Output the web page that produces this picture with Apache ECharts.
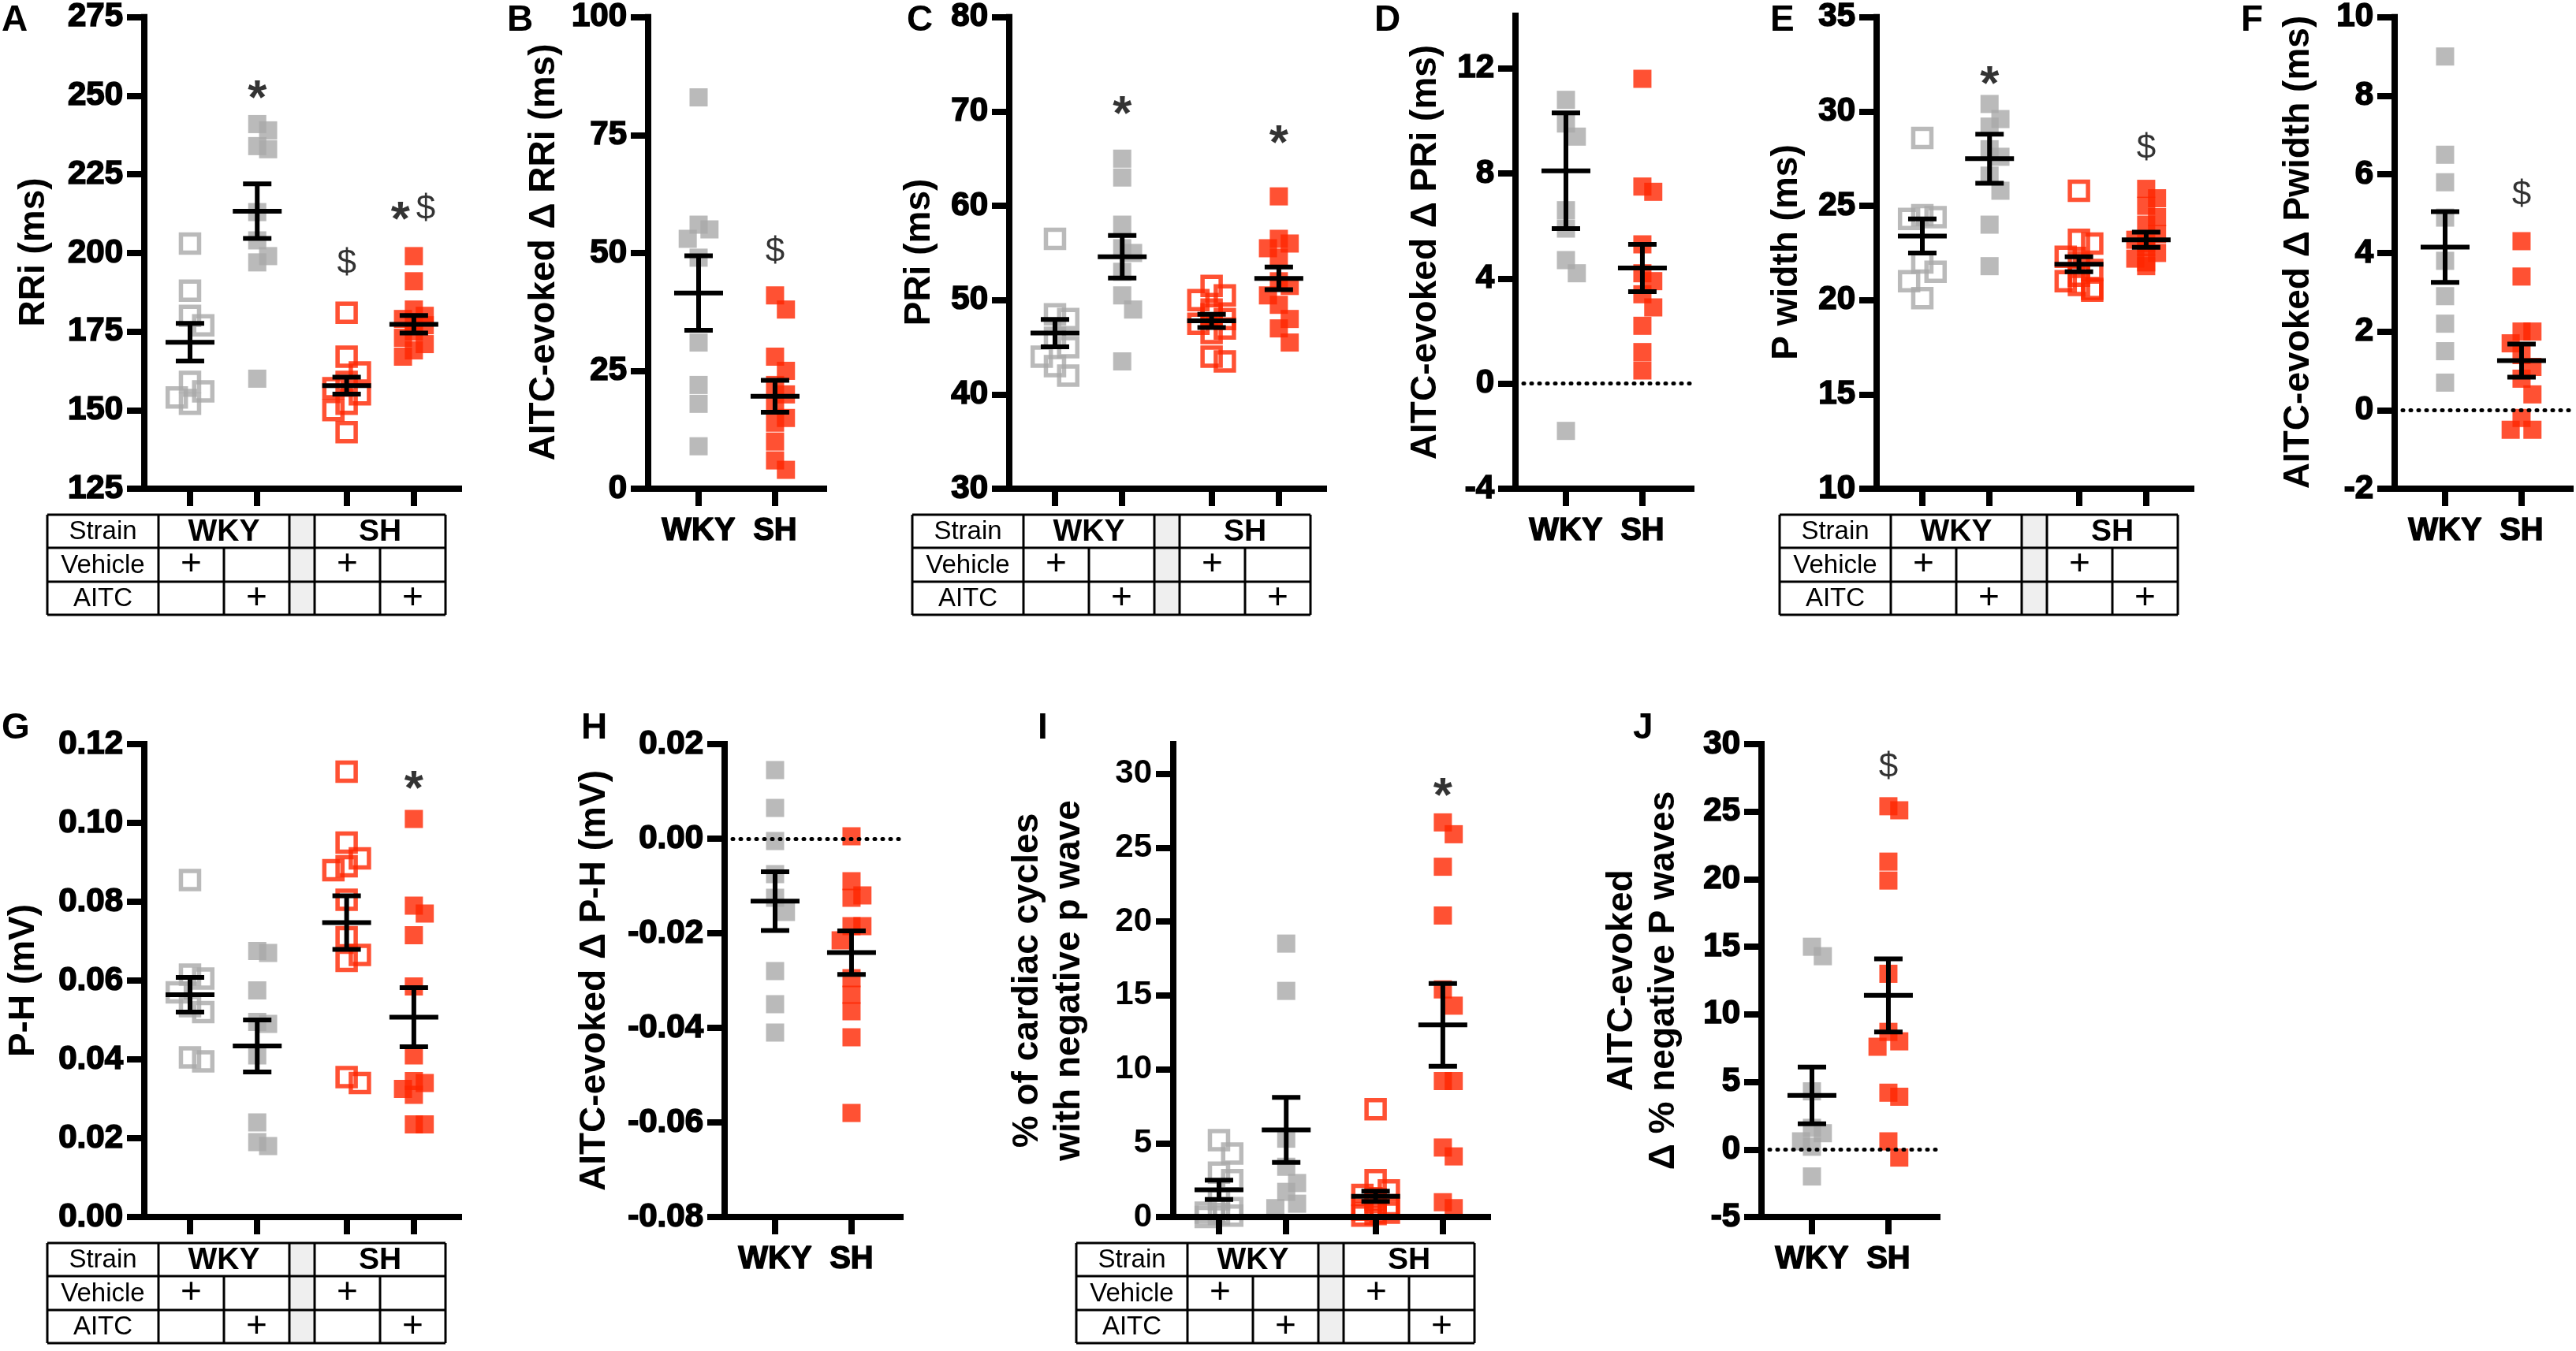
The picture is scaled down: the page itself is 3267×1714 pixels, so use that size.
<!DOCTYPE html>
<html lang="en">
<head>
<meta charset="UTF-8">
<title>AITC-evoked ECG changes in WKY and SH rats</title>
<script src="https://cdn.jsdelivr.net/npm/echarts/dist/echarts.min.js"></script>
<style>
    html, body { margin: 0; padding: 0; background: #fff; }
    #main { width: 3267px; height: 1714px; }
</style>
</head>
<body>
<div id="main"></div>
<script>
// ---- values ----
var strainNames = ['WKY', 'SH'];
var tableRows = ['Strain', 'Vehicle', 'AITC'];

// A  RRi (ms)
var rriTicks = [125, 150, 175, 200, 225, 250, 275];
var rriWkyVeh = [203, 188, 180, 177, 159, 156, 154, 152];
var rriWkyAitc = [241, 239, 234, 233, 213, 204, 199, 197, 160];
var rriShVeh = [181, 167, 162, 159, 157, 155, 152, 150, 143];
var rriShAitc = [199, 191, 182, 180, 179, 178, 177, 175, 173, 171, 169, 167];
var rriMean = [171.6, 213.3, 157.8, 177.3];
var rriSem = [6.0, 8.7, 2.7, 2.8];
var rriMarkText = ['', '*', '$', '*$'];
var rriMarkY = [null, 252.5, 196.5, 213.7];

// B  AITC-evoked delta RRi (ms)
var dRriTicks = [0, 25, 50, 75, 100];
var dRriWky = [83, 56, 55, 53, 49, 31, 22, 18, 9];
var dRriSh = [41, 38, 28, 25, 22, 20, 18, 15, 14, 10, 6, 4];
var dRriMean = [41.5, 19.6];
var dRriSem = [7.9, 3.4];
var dRriMarkText = ['', '$'];
var dRriMarkY = [null, 50.2];

// C  PRi (ms)
var priTicks = [30, 40, 50, 60, 70, 80];
var priWkyVeh = [56.5, 48.5, 48, 46, 45, 44, 43, 42];
var priWkyAitc = [65, 63, 58, 55.5, 55, 53, 50.5, 49, 43.5];
var priShVeh = [51.5, 50.5, 50, 49, 48.5, 48, 47.5, 47, 46.5, 44, 43.5];
var priShAitc = [61, 56.5, 56, 55.5, 54.5, 52, 51.5, 50.5, 49.5, 48, 47, 45.5];
var priMean = [46.5, 54.6, 47.8, 52.3];
var priSem = [1.45, 2.25, 0.7, 1.2];
var priMarkText = ['', '*', '', '*'];
var priMarkY = [null, 70.8, null, 67.7];

// D  AITC-evoked delta PRi (ms)
var dPriTicks = [-4, 0, 4, 8, 12];
var dPriWky = [10.8, 9.9, 9.4, 6.6, 5.9, 4.7, 4.2, -1.8];
var dPriSh = [11.6, 7.5, 7.3, 5.3, 4.2, 3.9, 3.4, 2.9, 2.2, 1.2, 0.5];
var dPriMean = [8.1, 4.4];
var dPriSem = [2.2, 0.9];
var dPriMarkText = ['', ''];
var dPriMarkY = [null, null];

// E  P width (ms)
var pwTicks = [10, 15, 20, 25, 30, 35];
var pwWkyVeh = [28.6, 24.5, 24.4, 24.3, 22, 21.5, 21, 20.1];
var pwWkyAitc = [30.4, 29.6, 29.2, 28, 27.6, 26.6, 25.8, 24, 21.8];
var pwShVeh = [25.8, 23.2, 23, 22.3, 22, 21.6, 21.3, 21, 20.8, 20.6, 20.5];
var pwShAitc = [25.9, 25.4, 25, 24.4, 24, 23.5, 23.2, 23, 22.8, 22.5, 22.2, 22, 21.8];
var pwMean = [23.4, 27.5, 21.9, 23.2];
var pwSem = [0.9, 1.3, 0.4, 0.4];
var pwMarkText = ['', '*', '', '$'];
var pwMarkY = [null, 32.0, null, 28.0];

// F  AITC-evoked delta Pwidth (ms)
var dPwTicks = [-2, 0, 2, 4, 6, 8, 10];
var dPwWky = [9.0, 6.5, 5.8, 4.9, 3.8, 2.9, 2.2, 1.5, 0.7];
var dPwSh = [4.3, 3.4, 2.0, 2.0, 1.7, 1.4, 1.1, 0.8, 0.4, -0.2, -0.5, -0.5];
var dPwMean = [4.15, 1.26];
var dPwSem = [0.9, 0.42];
var dPwMarkText = ['', '$'];
var dPwMarkY = [null, 5.46];

// G  P-H (mV)
var phTicks = [0, 0.02, 0.04, 0.06, 0.08, 0.10, 0.12];
var phWkyVeh = [0.0855, 0.0615, 0.0605, 0.057, 0.0535, 0.052, 0.0405, 0.0395];
var phWkyAitc = [0.0675, 0.067, 0.0575, 0.0495, 0.049, 0.041, 0.024, 0.019, 0.018];
var phShVeh = [0.113, 0.095, 0.091, 0.089, 0.088, 0.0805, 0.071, 0.0665, 0.065, 0.0355, 0.034];
var phShAitc = [0.101, 0.079, 0.077, 0.0715, 0.0585, 0.041, 0.0345, 0.034, 0.0325, 0.031, 0.0235, 0.0235];
var phMean = [0.0564, 0.0434, 0.0747, 0.0507];
var phSem = [0.0044, 0.0066, 0.0068, 0.0075];
var phMarkText = ['', '', '', '*'];
var phMarkY = [null, null, null, 0.1112];

// H  AITC-evoked delta P-H (mV)
var dPhTicks = [-0.08, -0.06, -0.04, -0.02, 0, 0.02];
var dPhWky = [0.0145, 0.0065, -0.0005, -0.0075, -0.0125, -0.0155, -0.028, -0.035, -0.041];
var dPhSh = [0.0005, -0.009, -0.012, -0.0125, -0.0185, -0.0185, -0.0215, -0.0295, -0.033, -0.0365, -0.042, -0.058];
var dPhMean = [-0.0132, -0.0241];
var dPhSem = [0.0062, 0.0046];
var dPhMarkText = ['', ''];
var dPhMarkY = [null, null];

// I  % of cardiac cycles with negative p wave
var negTicks = [0, 5, 10, 15, 20, 25, 30];
var negWkyVeh = [5.2, 4.3, 3.0, 2.5, 1.2, 0.6, 0.3, 0.2, 0.1, 0.0];
var negWkyAitc = [18.5, 15.3, 5.3, 3.4, 2.3, 1.7, 0.9, 0.6];
var negShVeh = [7.3, 2.5, 1.8, 1.5, 1.2, 1.0, 0.8, 0.5, 0.3, 0.2, 0.1];
var negShAitc = [26.7, 25.9, 23.7, 20.4, 15.4, 14.3, 9.2, 9.2, 4.7, 4.1, 1.0, 0.6];
var negMean = [1.84, 5.9, 1.4, 13.0];
var negSem = [0.65, 2.2, 0.35, 2.8];
var negMarkText = ['', '', '', '*'];
var negMarkY = [null, null, null, 29.2];

// J  AITC-evoked delta % negative P waves
var dNegTicks = [-5, 0, 5, 10, 15, 20, 25, 30];
var dNegWky = [15, 14.3, 4.3, 1.6, 1.2, 0.6, 0.2, -2.0];
var dNegSh = [25.4, 25.1, 21.3, 19.9, 13.0, 8.7, 8.0, 7.6, 4.2, 3.9, 0.6, -0.6];
var dNegMean = [4.0, 11.4];
var dNegSem = [2.1, 2.7];
var dNegMarkText = ['', '$'];
var dNegMarkY = [null, 28.25];

// ---- layout / style ----
var FONT = '"Liberation Sans", Arial, sans-serif';
var GREY = '#a9a9a9', RED = '#ff2600';
var ROW_TOP = [20, 944], PLOT_H = 600;
var POS4 = [1, 2, 3.33, 4.33], POS2 = [1, 2];
var STYLE4 = [{c: GREY, open: true}, {c: GREY, open: false}, {c: RED, open: true}, {c: RED, open: false}];
var STYLE2 = [{c: GREY, open: false}, {c: RED, open: false}];

var panels = [
    {letter: 'A', row: 0, left: 183, lx: 2, tx: 43, title: 'RRi (ms)', min: 125, max: 275, ticks: rriTicks,
        groups: [rriWkyVeh, rriWkyAitc, rriShVeh, rriShAitc], mean: rriMean, sem: rriSem, mt: rriMarkText, my: rriMarkY},
    {letter: 'B', row: 0, left: 822, lx: 643, tx: 690, title: 'AITC-evoked \u0394 RRi (ms)', min: 0, max: 100, ticks: dRriTicks,
        groups: [dRriWky, dRriSh], mean: dRriMean, sem: dRriSem, mt: dRriMarkText, my: dRriMarkY},
    {letter: 'C', row: 0, left: 1280, lx: 1150, tx: 1166, title: 'PRi (ms)', min: 30, max: 80, ticks: priTicks,
        groups: [priWkyVeh, priWkyAitc, priShVeh, priShAitc], mean: priMean, sem: priSem, mt: priMarkText, my: priMarkY},
    {letter: 'D', row: 0, left: 1922, lx: 1743, tx: 1808, title: 'AITC-evoked \u0394 PRi (ms)', min: -4, max: 14, ticks: dPriTicks, zero: true,
        groups: [dPriWky, dPriSh], mean: dPriMean, sem: dPriSem, mt: dPriMarkText, my: dPriMarkY},
    {letter: 'E', row: 0, left: 2380, lx: 2245, tx: 2266, title: 'P width (ms)', min: 10, max: 35, ticks: pwTicks,
        groups: [pwWkyVeh, pwWkyAitc, pwShVeh, pwShAitc], mean: pwMean, sem: pwSem, mt: pwMarkText, my: pwMarkY},
    {letter: 'F', row: 0, left: 3037, lx: 2842, tx: 2915, title: 'AITC-evoked \u0394 Pwidth (ms)', min: -2, max: 10, ticks: dPwTicks, zero: true,
        groups: [dPwWky, dPwSh], mean: dPwMean, sem: dPwSem, mt: dPwMarkText, my: dPwMarkY},
    {letter: 'G', row: 1, left: 183, lx: 2, tx: 30, title: 'P-H (mV)', min: 0, max: 0.12, ticks: phTicks, dec: 2,
        groups: [phWkyVeh, phWkyAitc, phShVeh, phShAitc], mean: phMean, sem: phSem, mt: phMarkText, my: phMarkY},
    {letter: 'H', row: 1, left: 919, lx: 737, tx: 754, title: 'AITC-evoked \u0394 P-H (mV)', min: -0.08, max: 0.02, ticks: dPhTicks, dec: 2, zero: true,
        groups: [dPhWky, dPhSh], mean: dPhMean, sem: dPhSem, mt: dPhMarkText, my: dPhMarkY},
    {letter: 'I', row: 1, left: 1488, lx: 1316, tx: 1330, title: '% of cardiac cycles\nwith negative p wave', min: 0, max: 32, ticks: negTicks, light: true,
        groups: [negWkyVeh, negWkyAitc, negShVeh, negShAitc], mean: negMean, sem: negSem, mt: negMarkText, my: negMarkY},
    {letter: 'J', row: 1, left: 2234, lx: 2071, tx: 2084, title: 'AITC-evoked\n\u0394 % negative P waves', min: -5, max: 30, ticks: dNegTicks, zero: true,
        groups: [dNegWky, dNegSh], mean: dNegMean, sem: dNegSem, mt: dNegMarkText, my: dNegMarkY}
];

function textEl(x, y, text, size, weight, align, rot) {
    return {
        type: 'text', x: x, y: y, rotation: rot || 0, silent: true,
        style: {
            text: text, fill: '#000', fontSize: size, fontWeight: weight, fontFamily: FONT,
            align: align || 'center', verticalAlign: 'middle',
            textAlign: align || 'center', textVerticalAlign: 'middle', lineHeight: Math.round(size * 1.15)
        }
    };
}
function lineEl(x1, y1, x2, y2) {
    return {type: 'line', silent: true, shape: {x1: x1, y1: y1, x2: x2, y2: y2}, style: {stroke: '#000', lineWidth: 3}};
}
function tableEls(L, top) {
    var y0 = top + 633, y1 = y0 + 42, y2 = y1 + 43, y3 = y2 + 42;
    var xl = L - 123, c1 = L + 18, c2 = L + 101, c3 = L + 184, c4 = L + 216, c5 = L + 299, xr = L + 382;
    var els = [{type: 'rect', silent: true, shape: {x: c3, y: y0, width: c4 - c3, height: y3 - y0}, style: {fill: '#efefef'}}];
    [y0, y1, y2, y3].forEach(function (y) { els.push(lineEl(xl, y, xr, y)); });
    [xl, c1, c3, c4, xr].forEach(function (x) { els.push(lineEl(x, y0, x, y3)); });
    [c2, c5].forEach(function (x) { els.push(lineEl(x, y1, x, y3)); });
    var my = [(y0 + y1) / 2, (y1 + y2) / 2, (y2 + y3) / 2];
    tableRows.forEach(function (t, r) { els.push(textEl((xl + c1) / 2, my[r] + 1, t, 33, 'normal')); });
    els.push(textEl((c1 + c3) / 2, my[0] + 1, strainNames[0], 39, 'bold'));
    els.push(textEl((c4 + xr) / 2, my[0] + 1, strainNames[1], 39, 'bold'));
    els.push(textEl((c1 + c2) / 2, my[1], '+', 46, 'normal'));
    els.push(textEl((c2 + c3) / 2, my[2], '+', 46, 'normal'));
    els.push(textEl((c4 + c5) / 2, my[1], '+', 46, 'normal'));
    els.push(textEl((c5 + xr) / 2, my[2], '+', 46, 'normal'));
    return els;
}

var grids = [], xAxes = [], yAxes = [], series = [], graphics = [];
var axisLine = {onZero: false, lineStyle: {color: '#000', width: 8, cap: 'square'}};

panels.forEach(function (p, i) {
    var four = p.groups.length === 4;
    var pos = four ? POS4 : POS2;
    var styles = four ? STYLE4 : STYLE2;
    var top = ROW_TOP[p.row];
    grids.push({left: p.left, top: top, width: four ? 399 : 223, height: PLOT_H});

    xAxes.push({
        gridIndex: i, type: 'value', min: four ? 0.32 : 0.34, max: four ? 5.0 : 2.64, z: 3,
        splitLine: {show: false}, axisLine: axisLine,
        axisTick: {length: 22, lineStyle: {color: '#000', width: 8}, customValues: pos},
        axisLabel: four ? {show: false} : {
            customValues: pos, margin: 34, color: '#000', fontFamily: FONT, fontWeight: 'bold', fontSize: 40,
            textBorderColor: '#000', textBorderWidth: 1.4,
            formatter: function (v) { return strainNames[Math.round(v) - 1]; }
        }
    });
    yAxes.push({
        gridIndex: i, type: 'value', min: p.min, max: p.max, z: 3,
        splitLine: {show: false}, axisLine: axisLine,
        axisTick: {length: 22, lineStyle: {color: '#000', width: 8}, customValues: p.ticks},
        axisLabel: {
            customValues: p.ticks, margin: 27, color: '#000', fontFamily: FONT, fontWeight: 'bold', fontSize: 42,
            textBorderColor: '#000', textBorderWidth: p.light ? 0 : 1.7,
            formatter: function (v) { return p.dec ? v.toFixed(p.dec) : String(v); }
        }
    });

    p.groups.forEach(function (vals, g) {
        var st = styles[g];
        var s = {
            id: 'p' + i + 'g' + g, type: 'scatter', xAxisIndex: i, yAxisIndex: i, z: 2,
            symbol: 'rect', symbolSize: 23, silent: true, clip: false,
            itemStyle: st.open ? {color: 'rgba(0,0,0,0)', borderColor: st.c, borderWidth: 5.5} : {color: st.c},
            data: vals.map(function (v) { return [pos[g], v]; })
        };
        if (g === 0 && p.zero) {
            s.markLine = {
                silent: true, symbol: ['none', 'none'], label: {show: false}, animation: false,
                lineStyle: {color: '#000', width: 5, type: [1, 9], cap: 'round'},
                data: [{yAxis: 0}]
            };
        }
        series.push(s);
    });

    series.push({
        type: 'custom', xAxisIndex: i, yAxisIndex: i, z: 4, silent: true, clip: false,
        encode: {x: 0, y: 1},
        data: p.mean.map(function (m, g) { return [pos[g], m, p.sem[g]]; }),
        renderItem: function (params, api) {
            var x = api.value(0), m = api.value(1), e = api.value(2);
            var c = api.coord([x, m]), hi = api.coord([x, m + e]), lo = api.coord([x, m - e]);
            var st = {stroke: '#000', lineWidth: 6};
            return {type: 'group', children: [
                {type: 'line', shape: {x1: c[0] - 31, y1: c[1], x2: c[0] + 31, y2: c[1]}, style: st},
                {type: 'line', shape: {x1: c[0], y1: hi[1], x2: c[0], y2: lo[1]}, style: st},
                {type: 'line', shape: {x1: c[0] - 18, y1: hi[1], x2: c[0] + 18, y2: hi[1]}, style: st},
                {type: 'line', shape: {x1: c[0] - 18, y1: lo[1], x2: c[0] + 18, y2: lo[1]}, style: st}
            ]};
        }
    });

    // significance marks
    var marks = [];
    p.mt.forEach(function (t, g) {
        if (!t) return;
        var pair = t.length > 1;
        t.split('').forEach(function (ch, k) {
            var dx = pair ? (k === 0 ? -17 : 15) : 0;
            marks.push({
                value: [pos[g], p.my[g]],
                label: ch === '*'
                    ? {formatter: '*', fontSize: 62, fontWeight: 'bold', offset: [dx, 15]}
                    : {formatter: '$', fontSize: 44, fontWeight: 'normal', offset: [dx, 0]}
            });
        });
    });
    if (marks.length) {
        series.push({
            type: 'scatter', xAxisIndex: i, yAxisIndex: i, z: 5, silent: true, symbolSize: 1, clip: false,
            itemStyle: {color: 'rgba(0,0,0,0)'},
            label: {show: true, position: 'inside', color: '#000', fontFamily: FONT},
            data: marks
        });
    }

    graphics.push(textEl(p.lx, p.row ? 924 : 26, p.letter, 46, 'bold', 'left'));
    graphics.push(textEl(p.tx, top + PLOT_H / 2, p.title, 46, 'bold', 'center', Math.PI / 2));
    if (four) graphics = graphics.concat(tableEls(p.left, top));
});

var chart = echarts.init(document.getElementById('main'));
chart.setOption({
    animation: false,
    backgroundColor: '#fff',
    grid: grids, xAxis: xAxes, yAxis: yAxes, series: series,
    graphic: {elements: graphics}
});

// spread points that would sit on top of each other (Prism-style scatter),
// three slots wide so dense clusters pile up like in Prism
var updates = [];
panels.forEach(function (p, i) {
    var four = p.groups.length === 4;
    var pos = four ? POS4 : POS2;
    var styles = four ? STYLE4 : STYLE2;
    p.groups.forEach(function (vals, g) {
        var size = styles[g].open ? 28 : 23;
        var step = size * 0.6;
        var slots = [0, step, -step];
        var placed = [];
        var data = vals.map(function (v) {
            var py = chart.convertToPixel({gridIndex: i}, [pos[g], v])[1];
            var best = 0, bestHits = Infinity;
            for (var k = 0; k < slots.length; k++) {
                var hits = placed.filter(function (q) {
                    return q[0] === slots[k] && Math.abs(q[1] - py) < size * 0.9;
                }).length;
                if (hits < bestHits) { best = k; bestHits = hits; }
                if (hits === 0) break;
            }
            placed.push([slots[best], py]);
            return {value: [pos[g], v], symbolOffset: [slots[best], 0]};
        });
        updates.push({id: 'p' + i + 'g' + g, data: data});
    });
});
chart.setOption({series: updates});
</script>
</body>
</html>
